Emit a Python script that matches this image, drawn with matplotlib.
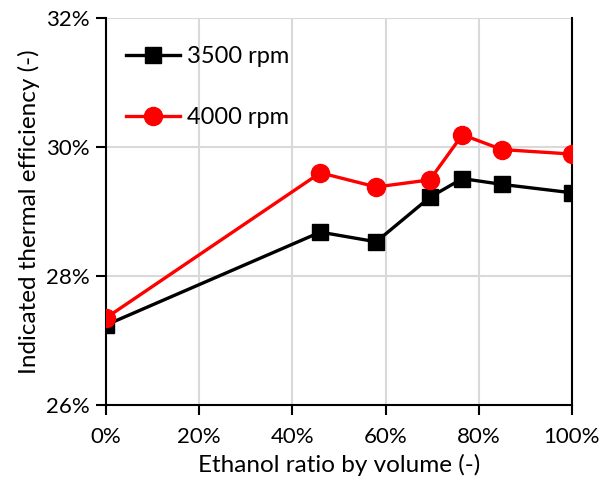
import matplotlib
matplotlib.use("Agg")
import matplotlib.pyplot as plt
from matplotlib.ticker import PercentFormatter

plt.rcParams['font.family'] = ['Lato', 'DejaVu Sans']

# ethanol ratio (%) and indicated thermal efficiency (%)
ethanol = [0, 46, 58, 69.5, 76.5, 85, 100]
ite_3500 = [27.24, 28.68, 28.53, 29.22, 29.51, 29.42, 29.29]
ite_4000 = [27.35, 29.60, 29.38, 29.49, 30.19, 29.96, 29.89]

fig = plt.figure(figsize=(6.11, 4.86), dpi=100)
ax = fig.add_axes([0.1735, 0.1667, 0.7625, 0.7963])

ax.plot(ethanol, ite_3500, color='black', lw=2.4, marker='s', ms=12, label='3500 rpm', zorder=3)
ax.plot(ethanol, ite_4000, color='red', lw=2.4, marker='o', ms=13, label='4000 rpm', zorder=4)

ax.set_xlim(0, 100)
ax.set_ylim(26, 32)
ax.set_xticks(range(0, 101, 20))
ax.set_yticks([26, 28, 30, 32])
ax.xaxis.set_major_formatter(PercentFormatter(decimals=0))
ax.yaxis.set_major_formatter(PercentFormatter(decimals=0))
ax.grid(True, color='#d9d9d9', lw=1.5)
ax.set_axisbelow(True)

ax.spines['top'].set_visible(False)
for s in ['right', 'left', 'bottom']:
    ax.spines[s].set_linewidth(1.5)
ax.tick_params(direction='out', length=7, width=1.5, labelsize=16)
ax.tick_params(axis='x', pad=9)
ax.tick_params(axis='y', pad=5)

ax.set_xlabel('Ethanol ratio by volume (-)', fontsize=17.5, labelpad=5)
ax.set_ylabel('Indicated thermal efficiency (-)', fontsize=17.5, labelpad=4)

ax.legend(loc='upper left', frameon=False, fontsize=17, handlelength=2.3,
          handletextpad=0.3, labelspacing=1.72, bbox_to_anchor=(0.0, 0.98),
          borderaxespad=0.45)

fig.savefig('out.png', dpi=100)
